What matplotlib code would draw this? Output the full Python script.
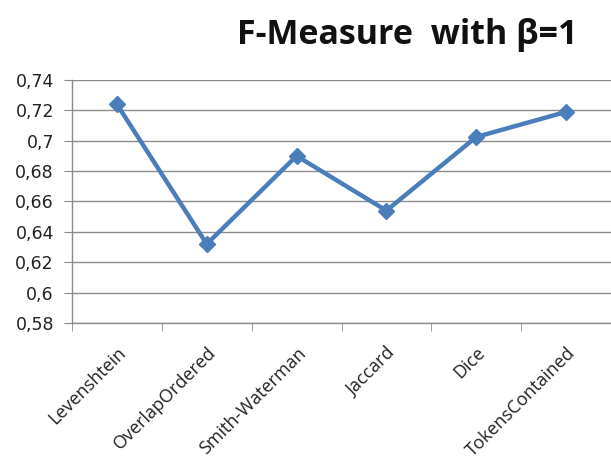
import matplotlib
matplotlib.use("Agg")
import matplotlib.pyplot as plt
from matplotlib.ticker import FixedLocator, FuncFormatter

categories = ["Levenshtein", "OverlapOrdered", "Smith-Waterman", "Jaccard", "Dice", "TokensContained"]
f_measure = [0.724, 0.632, 0.690, 0.654, 0.7025, 0.719]
y_ticks = [0.58, 0.60, 0.62, 0.64, 0.66, 0.68, 0.70, 0.72, 0.74]
title = "F-Measure  with β=1"

plt.rcParams['font.family'] = ['Open Sans', 'DejaVu Sans']

fig = plt.figure(figsize=(6.11, 4.74), dpi=100)
ax = fig.add_axes([72/611, 1-323/474, 1-72/611, (323-80)/474])

x = list(range(len(categories)))
ax.plot(x, f_measure, color='#4A7EBB', linewidth=3.2, marker='D', markersize=8.5,
        markerfacecolor='#4A7EBB', markeredgecolor='#4A7EBB', zorder=3, clip_on=False)

ax.set_xlim(-0.5, len(categories) - 0.5)
ax.set_ylim(0.58, 0.74)
ax.set_yticks(y_ticks)
ax.yaxis.set_major_formatter(FuncFormatter(lambda v, p: (f"{v:.2f}".rstrip('0').rstrip('.')).replace('.', ',')))
ax.grid(axis='y', color='#8c8c8c', linewidth=1.0)
ax.set_axisbelow(True)

ax.set_xticks(x)
ax.set_xticklabels(categories, rotation=45, ha='right', rotation_mode='anchor', fontsize=13, color='#222222')
ax.xaxis.set_minor_locator(FixedLocator([i - 0.5 for i in range(len(categories) + 1)]))
ax.tick_params(axis='x', which='major', length=0, pad=15)
ax.tick_params(axis='x', which='minor', length=6, color='#8c8c8c', direction='out')
ax.tick_params(axis='y', length=6, color='#8c8c8c', labelsize=12.5, labelcolor='#222222', pad=7)
for lab in ax.get_yticklabels():
    lab.set_fontfamily('DejaVu Sans')

for s in ['top', 'right']:
    ax.spines[s].set_visible(False)
for s in ['left', 'bottom']:
    ax.spines[s].set_color('#8c8c8c')
    ax.spines[s].set_linewidth(1.0)

fig.text(407/611, 1-35/474, title, ha='center', va='center', fontsize=24.5, fontweight='bold', color='#111111')

fig.savefig("out.png", dpi=100, facecolor='white')
